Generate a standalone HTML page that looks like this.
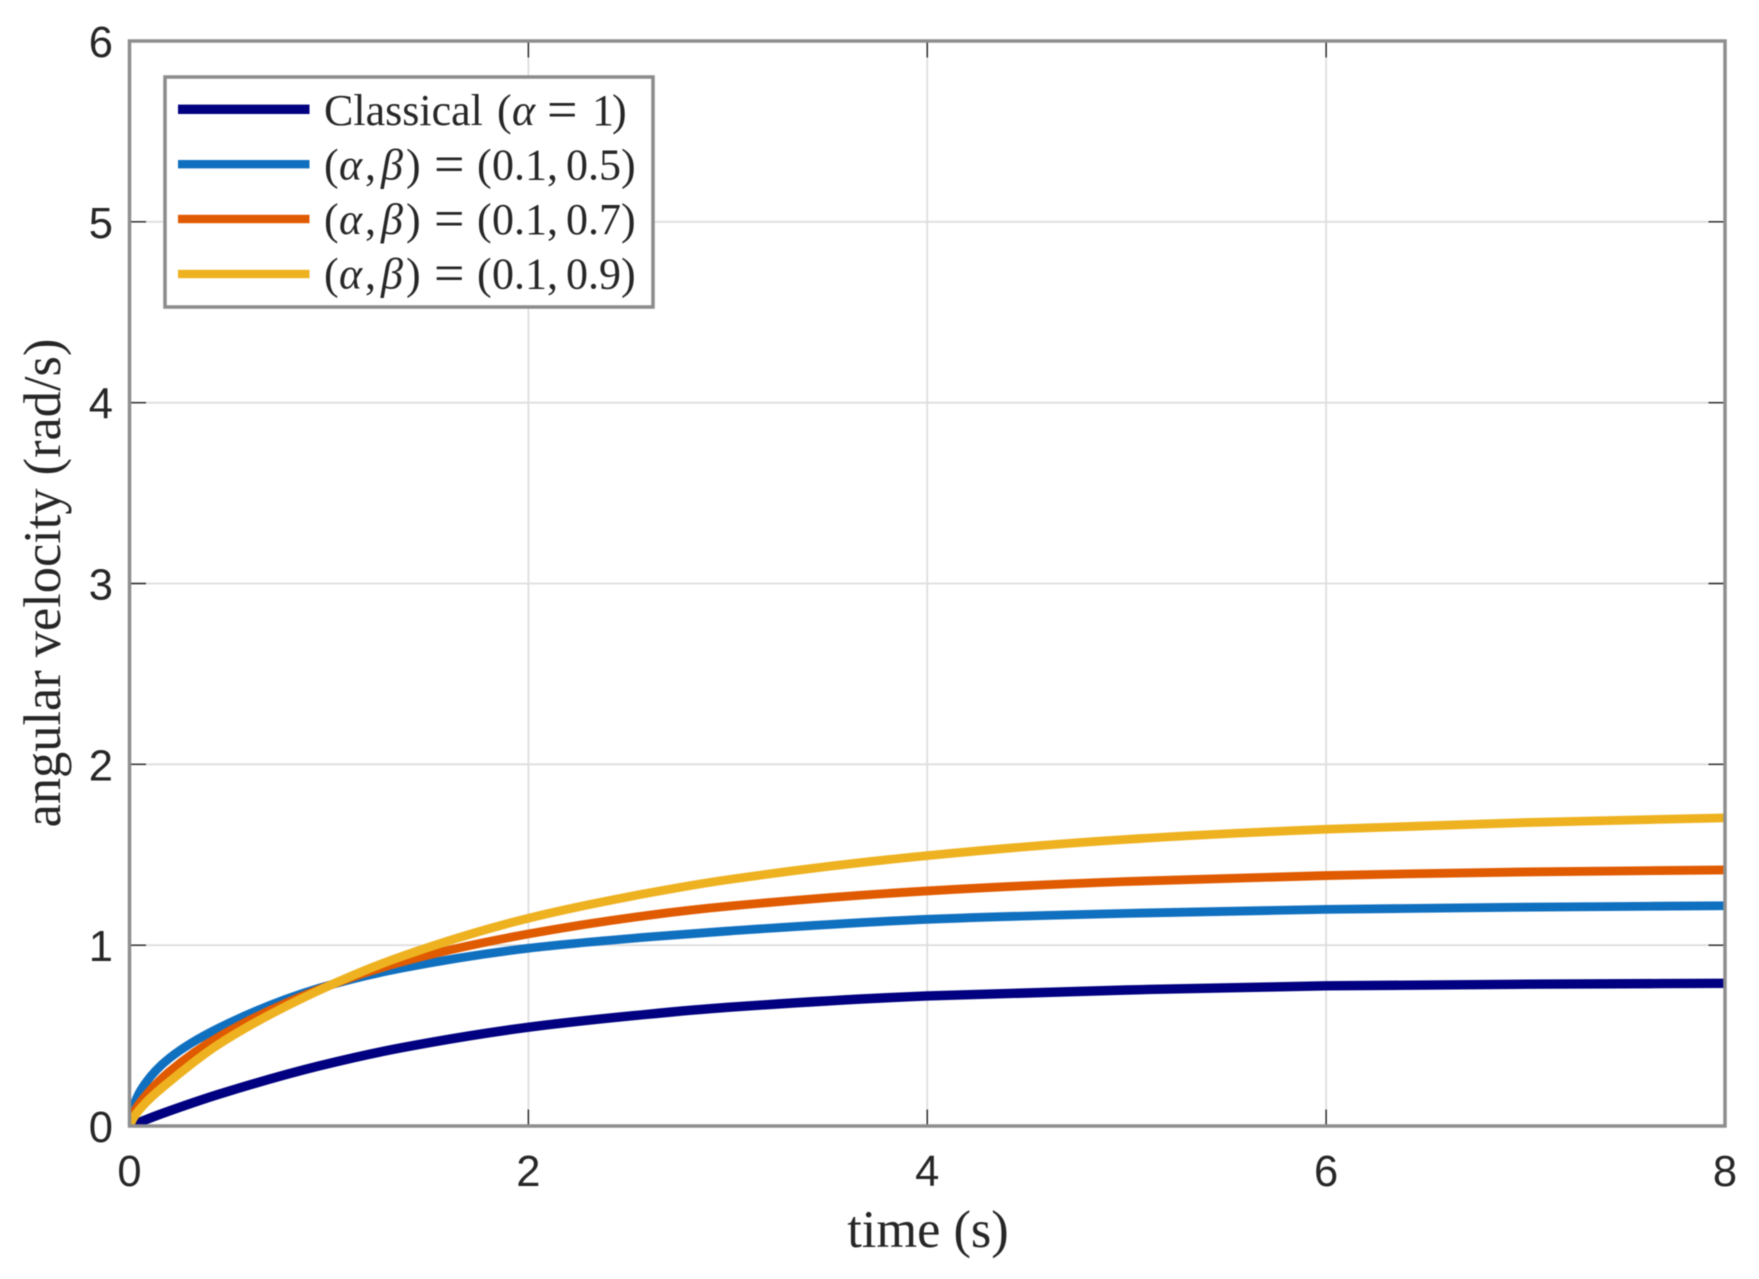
<!DOCTYPE html>
<html lang="en">
<head>
<meta charset="utf-8">
<title>Angular velocity over time</title>
<style>
html,body{margin:0;padding:0;background:#fff;width:1759px;height:1279px;overflow:hidden}
svg{display:block;filter:blur(0.6px)}
.tick-text{font-family:"Liberation Sans",sans-serif;font-size:43.5px;fill:#262626}
.axis-title{font-family:"Liberation Serif",serif;font-size:52.4px;fill:#262626}
.legend-text{font-family:"Liberation Serif",serif;font-size:44px;fill:#262626}
.legend-text .i{font-style:italic}
.legend-text .eq{font-size:54px}
</style>
</head>
<body>
<svg id="chart" xmlns="http://www.w3.org/2000/svg" width="1759" height="1279" viewBox="0 0 1759 1279">
  <rect x="0" y="0" width="1759" height="1279" fill="#ffffff"/>
  <defs>
    <clipPath id="plot-clip"><rect x="129.5" y="41" width="1595.5" height="1085"/></clipPath>
  </defs>
  <g id="grid"></g>
  <g id="series" clip-path="url(#plot-clip)"></g>
  <g id="axes"></g>
  <text class="axis-title" x="928" y="1247" text-anchor="middle">time (s)</text>
  <text class="axis-title" transform="translate(60,583) rotate(-90)" text-anchor="middle">angular velocity (rad/s)</text>

  <g>
    <rect x="165" y="77" width="488" height="230" fill="#ffffff" stroke="#8c8c8c" stroke-width="3.5"/>
    <g>
      <rect x="178" y="104.6" width="131.5" height="9.4" fill="#000080"/>
      <text class="legend-text" y="125"><tspan x="324">Classical</tspan><tspan x="497">(</tspan><tspan x="512" class="i">α</tspan><tspan x="547" dy="2.5" class="eq">=</tspan><tspan x="592" dy="-2.5">1</tspan><tspan x="612">)</tspan></text>
    </g>
    <g>
      <rect x="178" y="160" width="131.5" height="8.4" fill="#1070c0"/>
      <text class="legend-text" y="179.5"><tspan x="324">(</tspan><tspan x="339" class="i">α</tspan><tspan x="365">,</tspan><tspan x="381" class="i">β</tspan><tspan x="406">)</tspan><tspan x="434" dy="2.5" class="eq">=</tspan><tspan x="477" dy="-2.5">(</tspan><tspan x="492">0.1</tspan><tspan x="547">,</tspan><tspan x="566">0.5</tspan><tspan x="621">)</tspan></text>
    </g>
    <g>
      <rect x="178" y="214.8" width="131.5" height="8.4" fill="#e05a00"/>
      <text class="legend-text" y="234"><tspan x="324">(</tspan><tspan x="339" class="i">α</tspan><tspan x="365">,</tspan><tspan x="381" class="i">β</tspan><tspan x="406">)</tspan><tspan x="434" dy="2.5" class="eq">=</tspan><tspan x="477" dy="-2.5">(</tspan><tspan x="492">0.1</tspan><tspan x="547">,</tspan><tspan x="566">0.7</tspan><tspan x="621">)</tspan></text>
    </g>
    <g>
      <rect x="178" y="269.8" width="131.5" height="8.4" fill="#eeb220"/>
      <text class="legend-text" y="288.5"><tspan x="324">(</tspan><tspan x="339" class="i">α</tspan><tspan x="365">,</tspan><tspan x="381" class="i">β</tspan><tspan x="406">)</tspan><tspan x="434" dy="2.5" class="eq">=</tspan><tspan x="477" dy="-2.5">(</tspan><tspan x="492">0.1</tspan><tspan x="547">,</tspan><tspan x="566">0.9</tspan><tspan x="621">)</tspan></text>
    </g>
  </g>
</svg>
<script>
const timeValues    = [0, 0.02, 0.08, 0.2, 0.45, 0.95, 1.36, 2, 2.6, 3, 4, 5, 6, 7, 8];
const classicalVals = [0, 0.008, 0.034, 0.083, 0.176, 0.332, 0.432, 0.546, 0.618, 0.656, 0.719, 0.752, 0.775, 0.784, 0.789];
const beta05Vals    = [0, 0.107, 0.237, 0.375, 0.543, 0.762, 0.872, 0.983, 1.045, 1.078, 1.143, 1.176, 1.198, 1.21, 1.218];
const beta07Vals    = [0, 0.07, 0.166, 0.30, 0.494, 0.755, 0.906, 1.062, 1.165, 1.215, 1.30, 1.352, 1.385, 1.405, 1.416];
const beta09Vals    = [0, 0.045, 0.127, 0.245, 0.454, 0.75, 0.936, 1.149, 1.288, 1.362, 1.495, 1.585, 1.641, 1.678, 1.704];
const xTickValues   = [0, 2, 4, 6, 8];
const yTickValues   = [0, 1, 2, 3, 4, 5, 6];
const seriesNames   = ['classical', 'beta-0-5', 'beta-0-7', 'beta-0-9'];

const SVGNS = 'http://www.w3.org/2000/svg';
const plotLeft = 129.5, plotRight = 1725, plotTop = 41, plotBottom = 1126;
const xMax = 8, yMax = 6;
function xScale(t) { return plotLeft + (plotRight - plotLeft) * t / xMax; }
function yScale(v) { return plotBottom - (plotBottom - plotTop) * v / yMax; }

function makeLine(x1, y1, x2, y2, stroke, width) {
  const el = document.createElementNS(SVGNS, 'line');
  el.setAttribute('x1', x1);
  el.setAttribute('y1', y1);
  el.setAttribute('x2', x2);
  el.setAttribute('y2', y2);
  el.setAttribute('stroke', stroke);
  el.setAttribute('stroke-width', width);
  return el;
}

function monotonePath(xs, ys) {
  const n = xs.length, d = [], m = new Array(n);
  for (let i = 0; i < n - 1; i++) d.push((ys[i + 1] - ys[i]) / (xs[i + 1] - xs[i]));
  m[0] = d[0];
  m[n - 1] = d[n - 2];
  for (let i = 1; i < n - 1; i++) {
    if (d[i - 1] * d[i] <= 0) { m[i] = 0; continue; }
    const h0 = xs[i] - xs[i - 1], h1 = xs[i + 1] - xs[i];
    const w1 = 2 * h1 + h0, w2 = h1 + 2 * h0;
    m[i] = (w1 + w2) / (w1 / d[i - 1] + w2 / d[i]);
  }
  let p = 'M' + xs[0].toFixed(2) + ' ' + ys[0].toFixed(2);
  for (let i = 0; i < n - 1; i++) {
    const h = (xs[i + 1] - xs[i]) / 3;
    p += ' C' + (xs[i] + h).toFixed(2) + ' ' + (ys[i] + m[i] * h).toFixed(2) + ' ' +
         (xs[i + 1] - h).toFixed(2) + ' ' + (ys[i + 1] - m[i + 1] * h).toFixed(2) + ' ' +
         xs[i + 1].toFixed(2) + ' ' + ys[i + 1].toFixed(2);
  }
  return p;
}

const grid = document.getElementById('grid');
const axes = document.getElementById('axes');
const seriesGroup = document.getElementById('series');
const tickLen = 16.5, tickColor = '#262626', gridColor = '#dedede', axisColor = '#8e8e8e';

xTickValues.forEach(function (t) {
  const x = xScale(t);
  if (t !== 0 && t !== xMax) {
    const g = makeLine(x, plotTop, x, plotBottom, gridColor, 1.8);
    
    
    grid.appendChild(g);
    const tb = makeLine(x, plotBottom, x, plotBottom - tickLen, tickColor, 1.4);
    
    
    axes.appendChild(tb);
    const tt = makeLine(x, plotTop, x, plotTop + tickLen, tickColor, 1.4);
    
    
    axes.appendChild(tt);
  }
  const label = document.createElementNS(SVGNS, 'text');
  label.setAttribute('class', 'tick-text');
  label.setAttribute('x', x);
  label.setAttribute('y', 1186);
  label.setAttribute('text-anchor', 'middle');
  
  
  label.textContent = t;
  axes.appendChild(label);
});

yTickValues.forEach(function (v) {
  const y = yScale(v);
  if (v !== 0 && v !== yMax) {
    const g = makeLine(plotLeft, y, plotRight, y, gridColor, 1.8);
    
    
    grid.appendChild(g);
    const tl = makeLine(plotLeft, y, plotLeft + tickLen, y, tickColor, 1.4);
    
    
    axes.appendChild(tl);
    const tr = makeLine(plotRight, y, plotRight - tickLen, y, tickColor, 1.4);
    
    
    axes.appendChild(tr);
  }
  const label = document.createElementNS(SVGNS, 'text');
  label.setAttribute('class', 'tick-text');
  label.setAttribute('x', 113);
  label.setAttribute('y', y + 16);
  label.setAttribute('text-anchor', 'end');
  
  
  label.textContent = v;
  axes.appendChild(label);
});

const frame = document.createElementNS(SVGNS, 'rect');
frame.setAttribute('x', plotLeft);
frame.setAttribute('y', plotTop);
frame.setAttribute('width', plotRight - plotLeft);
frame.setAttribute('height', plotBottom - plotTop);
frame.setAttribute('fill', 'none');
frame.setAttribute('stroke', axisColor);
frame.setAttribute('stroke-width', 3.5);


axes.appendChild(frame);

const allSeries = [classicalVals, beta05Vals, beta07Vals, beta09Vals];
const seriesColors = ['#000080', '#1070c0', '#e05a00', '#eeb220'];
const seriesWidths = [9.4, 8.8, 8.8, 8.8];
allSeries.forEach(function (vals, idx) {
  const path = document.createElementNS(SVGNS, 'path');
  path.setAttribute('d', monotonePath(timeValues.map(xScale), vals.map(yScale)));
  path.setAttribute('fill', 'none');
  path.setAttribute('stroke', seriesColors[idx]);
  path.setAttribute('stroke-width', seriesWidths[idx]);
  path.setAttribute('stroke-linejoin', 'round');
  
  
  seriesGroup.appendChild(path);
});
</script>
</body>
</html>
